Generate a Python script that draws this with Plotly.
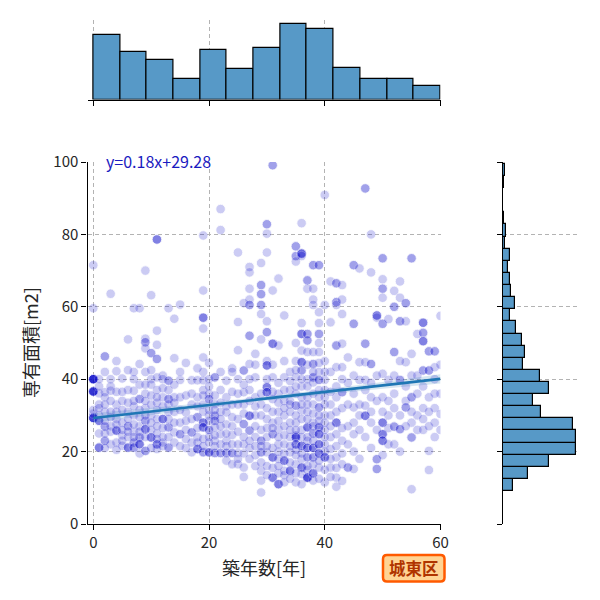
import plotly.graph_objects as go

FONT = "Noto Sans CJK JP"

# ---- scatter samples: (築年数, 専有面積, number of overlapping points)
samples = [
    (0, 71.5, 1), (0, 59.6, 1), (0, 40, 8), (0, 36.6, 7), (0, 29.3, 6), (0, 30.5, 1), (0, 31.5, 1),
    (1, 28.5, 3), (1, 21.1, 3), (1, 36.1, 1), (1, 38, 1), (1, 33, 1), (1, 30, 1),
    (2, 46.3, 2), (2, 36.4, 1), (2, 26.9, 2), (2, 23, 2), (2, 42, 1), (2, 35, 1), (2, 31, 1), (2, 25, 1),
    (3, 63.6, 1), (3, 40, 1), (3, 36.8, 1), (3, 31, 1), (3, 27, 1), (3, 25.5, 1), (3, 22, 1),
    (4, 42.2, 1), (4, 25.8, 3), (4, 29, 1), (4, 33, 1), (4, 22.5, 1), (4, 45, 1),
    (5, 40.2, 1), (5, 21.6, 1), (5, 28, 1), (5, 34, 1), (5, 24.5, 1),
    (6, 51, 1), (6, 21.1, 3), (6, 27, 2), (6, 37, 1), (6, 31, 1), (6, 24, 1),
    (7, 59.6, 1), (7, 42, 1), (7, 40, 1), (7, 36.8, 1), (7, 22.5, 2), (7, 21.1, 2), (7, 30, 1), (7, 25.5, 1),
    (8, 59.6, 1), (8, 44.2, 1), (8, 34.5, 2), (8, 27, 1), (8, 23.9, 2), (8, 22, 3), (8, 19.5, 1),
    (9, 70, 1), (9, 51.2, 1), (9, 50.2, 2), (9, 48.5, 1), (9, 42, 1), (9, 36, 1), (9, 32, 1),
    (9, 28.5, 2), (9, 26.2, 3), (9, 20.2, 2),
    (10, 63.2, 1), (10, 47.2, 2), (10, 40, 1), (10, 38.5, 1), (10, 33, 1), (10, 30, 1), (10, 26, 1), (10, 23.9, 3),
    (11, 78.6, 3), (11, 53.4, 1), (11, 49.5, 1), (11, 45.6, 2), (11, 40.5, 1), (11, 37, 1), (11, 33.5, 1),
    (11, 29, 1), (11, 25, 1), (11, 22, 3), (11, 20.7, 1),
    (12, 41, 1), (12, 40, 1), (12, 35, 1), (12, 29, 3), (12, 24, 1), (12, 21.5, 1),
    (13, 59.6, 1), (13, 39.6, 2), (13, 34.5, 2), (13, 31, 1), (13, 26.7, 2), (13, 21.1, 2),
    (14, 56.7, 1), (14, 45.8, 1), (14, 35, 1), (14, 31, 1), (14, 25.3, 1),
    (15, 60.6, 1), (15, 39.8, 1), (15, 35, 1), (15, 28, 1), (15, 24.8, 2),
    (16, 44.5, 1), (16, 30.8, 1), (16, 26, 1), (16, 21, 1),
    (17, 39.7, 1), (17, 33, 1), (17, 25.3, 2), (17, 19.8, 1),
    (18, 39.7, 1), (18, 35, 1), (18, 29.5, 2), (18, 24, 1), (18, 20.7, 3),
    (19, 79.7, 1), (19, 64.5, 1), (19, 57, 3), (19, 54, 1), (19, 42, 1), (19, 39.7, 1), (19, 37, 1),
    (19, 33, 1), (19, 28, 3), (19, 26.7, 3), (19, 19.8, 2),
    (20, 44.5, 1), (20, 40, 1), (20, 36, 1), (20, 34.5, 2), (20, 30, 1), (20, 26, 2), (20, 19.8, 3),
    (21, 40.5, 2), (21, 33.1, 1), (21, 29.9, 2), (21, 28.5, 2), (21, 26.7, 1), (21, 23, 1), (21, 19.6, 2),
    (22, 87, 1), (22, 81.2, 1), (22, 37, 1), (22, 31, 1), (22, 24.8, 1), (22, 19.6, 2),
    (23, 39.6, 1), (23, 35, 1), (23, 30.8, 1), (23, 27.5, 1), (23, 23, 1), (23, 19.6, 2),
    (24, 43, 1), (24, 42, 1), (24, 33, 1), (24, 24.6, 1), (24, 19.6, 2),
    (25, 75, 1), (25, 55.8, 1), (25, 48, 1), (25, 36, 1), (25, 29, 1), (25, 19.6, 1), (25, 16.5, 1),
    (26, 61, 1), (26, 42.4, 2), (26, 36.4, 1), (26, 33, 1), (26, 27.6, 2), (26, 22, 1), (26, 15.6, 1),
    (27, 71, 1), (27, 69.5, 1), (27, 65, 1), (27, 62, 1), (27, 60.5, 2), (27, 52, 2), (27, 44.2, 1),
    (27, 37, 1), (27, 29.9, 3), (27, 25.8, 2), (27, 21, 1),
    (28, 47, 1), (28, 40.5, 1), (28, 35, 1), (28, 24, 1), (28, 19, 1),
    (29, 72.1, 1), (29, 66, 2), (29, 63.5, 2), (29, 60.5, 2), (29, 58, 1), (29, 51, 1), (29, 33, 1),
    (29, 26, 1), (29, 23, 2), (29, 19.8, 2), (29, 14.7, 1), (29, 12, 1), (29, 8.7, 1),
    (30, 82.8, 2), (30, 80.2, 1), (30, 75, 1), (30, 56, 1), (30, 53, 2), (30, 45, 1), (30, 43.8, 3),
    (30, 37.8, 3), (30, 36.4, 3), (30, 29, 1), (30, 24, 1), (30, 19.8, 1),
    (31, 99.1, 2), (31, 64.5, 1), (31, 49.8, 3), (31, 40.5, 1), (31, 34.5, 1), (31, 28, 1), (31, 24.8, 2),
    (31, 21, 1), (31, 18.4, 3), (31, 12.8, 3),
    (32, 67.8, 1), (32, 49.3, 1), (32, 36, 1), (32, 31, 1), (32, 26.2, 1), (32, 22, 1), (32, 18, 1),
    (32, 14, 1), (32, 11, 3),
    (33, 57.6, 1), (33, 45, 1), (33, 40.5, 1), (33, 34, 1), (33, 30, 1), (33, 27, 1), (33, 22, 1),
    (33, 17.5, 3), (33, 14.7, 1), (33, 13.5, 1),
    (34, 42, 1), (34, 37, 1), (34, 34, 1), (34, 31, 1), (34, 28, 1), (34, 24, 1), (34, 19.8, 1), (34, 14.7, 3),
    (35, 76.7, 2), (35, 74, 2), (35, 72.5, 1), (35, 50, 1), (35, 45, 1), (35, 40.5, 1), (35, 36, 1),
    (35, 32.7, 2), (35, 28, 1), (35, 24.4, 2), (35, 23.9, 3), (35, 22, 3), (35, 19, 1), (35, 16.5, 1),
    (36, 83.1, 1), (36, 74.7, 4), (36, 74, 1), (36, 55.5, 1), (36, 52.5, 3), (36, 47.9, 1), (36, 44.7, 3),
    (36, 42.4, 2), (36, 38, 1), (36, 35, 1), (36, 31.3, 1), (36, 29, 1), (36, 26, 1), (36, 21.6, 3),
    (36, 18, 1), (36, 15.6, 3), (36, 13.8, 1),
    (37, 67.3, 2), (37, 65, 1), (37, 52.5, 2), (37, 50.7, 2), (37, 47.5, 1), (37, 40, 1), (37, 35, 1),
    (37, 31, 1), (37, 26.7, 3), (37, 21, 3), (37, 18.4, 2), (37, 16, 1), (37, 12.8, 5),
    (38, 71.5, 2), (38, 65, 1), (38, 62, 1), (38, 60.5, 1), (38, 47.5, 1), (38, 44.2, 2), (38, 40.5, 2),
    (38, 39.1, 1), (38, 36, 1), (38, 33, 1), (38, 28, 1), (38, 25, 2), (38, 21, 3), (38, 18.4, 2), (38, 14, 3),
    (39, 71.5, 2), (39, 58.5, 1), (39, 55.5, 1), (39, 52.5, 2), (39, 50, 1), (39, 47.5, 1), (39, 42, 1),
    (39, 39.8, 2), (39, 35, 1), (39, 32.2, 2), (39, 26.7, 3), (39, 24.8, 3), (39, 22, 3), (39, 19.5, 3),
    (39, 15.6, 1),
    (40, 90.9, 1), (40, 60.5, 1), (40, 45, 1), (40, 39.8, 1), (40, 35, 1), (40, 30, 1), (40, 26, 1),
    (40, 22, 1), (40, 18.4, 3), (40, 11.5, 1),
    (41, 67, 1), (41, 55.7, 1), (41, 42, 1), (41, 33, 1), (41, 24, 1), (41, 20.7, 1), (41, 15.6, 1),
    (42, 66.5, 2), (42, 61.3, 2), (42, 60.5, 1), (42, 49.3, 2), (42, 43.3, 1), (42, 35, 1), (42, 28, 3),
    (42, 24.8, 1), (42, 18.4, 1), (42, 12.8, 1), (42, 10.3, 1),
    (43, 66, 1), (43, 62, 1), (43, 58, 1), (43, 49.8, 1), (43, 43.3, 1), (43, 36.4, 2), (43, 23, 1),
    (43, 19.5, 1), (43, 11.9, 1),
    (44, 39, 1), (44, 27, 1), (44, 15.6, 2),
    (45, 71.5, 2), (45, 55.3, 2), (45, 41, 1), (45, 32.2, 1), (45, 24.8, 1), (45, 15.2, 1),
    (46, 70.6, 1), (46, 44.7, 1), (46, 39.8, 1), (46, 33, 1),
    (47, 92.7, 2), (47, 49.8, 2), (47, 44.7, 1), (47, 39.8, 1), (47, 32.7, 1), (47, 29.9, 3),
    (48, 80, 1), (48, 69.5, 1), (48, 44.2, 2), (48, 35, 1), (48, 28, 1),
    (49, 57.6, 3), (49, 57, 1), (49, 34, 1), (49, 17.9, 2), (49, 15.2, 2),
    (50, 73.4, 2), (50, 67.6, 1), (50, 65, 2), (50, 62.5, 1), (50, 55.3, 2), (50, 41.5, 1), (50, 35, 1),
    (50, 28, 3), (50, 24.8, 3), (50, 23, 3),
    (51, 56.6, 1), (51, 39.8, 1), (51, 30, 1), (51, 26.5, 1),
    (52, 64.4, 1), (52, 60, 2), (52, 47.5, 2), (52, 36, 1), (52, 32, 1), (52, 26.9, 2),
    (53, 67, 1), (53, 62.5, 1), (53, 56, 2), (53, 39.8, 2), (53, 26.2, 2), (53, 20, 1),
    (54, 61, 2), (54, 56, 1), (54, 44.7, 1), (54, 34, 1), (54, 32.2, 2),
    (55, 73.4, 2), (55, 41, 1), (55, 35, 2), (55, 28, 1), (55, 23.9, 2), (55, 9.6, 1),
    (56, 52.5, 1), (56, 30, 1), (56, 26, 1),
    (57, 55.6, 3), (57, 52.8, 2), (57, 50.5, 3), (57, 42.4, 2), (57, 38, 1), (57, 32, 1), (57, 26, 1),
    (58, 47.7, 2), (58, 42.4, 2), (58, 35, 1), (58, 27, 1), (58, 20.2, 1), (58, 14.9, 1),
    (59, 47.7, 2), (59, 43.3, 1), (59, 40, 1), (59, 32, 1), (59, 28, 1),
    (60, 57.5, 1), (60, 44, 1), (60, 36, 1), (60, 30.4, 1),
    # lighter single points filling the dense cloud
    (1, 25, 1), (1, 32, 1), (1, 40, 1), (2, 33, 1), (2, 28.5, 1), (2, 21, 1),
    (3, 34, 1), (3, 29.5, 1), (3, 38, 1), (4, 27.5, 1), (4, 36.5, 1), (4, 31, 1), (4, 20.5, 1),
    (5, 26, 1), (5, 31.5, 1), (5, 36.5, 1), (5, 23, 1), (6, 33.5, 1), (6, 29, 1), (6, 42.5, 1), (6, 25.5, 1),
    (7, 27.5, 1), (7, 32.5, 1), (7, 24, 1), (7, 34, 1), (8, 29.5, 1), (8, 38.5, 1), (8, 25.5, 1), (8, 31.5, 1),
    (9, 30, 1), (9, 34, 1), (9, 24, 1), (9, 38.5, 1), (10, 35.5, 1), (10, 28, 1), (10, 21, 1), (10, 42.5, 1),
    (11, 27, 1), (11, 31.5, 1), (11, 23.5, 1), (11, 35, 1), (12, 26.5, 1), (12, 32.5, 1), (12, 37.5, 1),
    (12, 22.5, 1), (13, 24, 1), (13, 29, 1), (13, 37, 1), (13, 33, 1), (14, 28, 1), (14, 22.5, 1),
    (14, 38.5, 1), (14, 33.5, 1), (15, 31.5, 1), (15, 21.5, 1), (15, 42, 1), (16, 23.5, 1), (16, 35.5, 1),
    (16, 28.5, 1), (17, 29, 1), (17, 22.5, 1), (17, 36, 1), (18, 26.5, 1), (18, 32.5, 1), (18, 22.5, 1),
    (18, 43, 1), (19, 31, 1), (19, 23.5, 1), (19, 35.5, 1), (19, 46, 1), (19, 21.5, 1),
    (20, 22.5, 1), (20, 28.5, 1), (20, 31.5, 1), (20, 24, 1), (20, 38, 1),
    (21, 24.5, 1), (21, 35.5, 1), (21, 21.5, 1), (21, 31.5, 1), (22, 27, 1), (22, 33.5, 1), (22, 22, 1),
    (22, 29, 1), (22, 42, 1), (23, 25, 1), (23, 32.5, 1), (23, 21.5, 1), (23, 17.5, 1),
    (24, 27, 1), (24, 29.5, 1), (24, 22, 1), (24, 36.5, 1), (24, 16.5, 1),
    (25, 25.5, 1), (25, 33, 1), (25, 22, 1), (25, 18, 1), (25, 40, 1),
    (26, 30.5, 1), (26, 24, 1), (26, 19.5, 1), (26, 38.5, 1), (26, 13, 1),
    (27, 34, 1), (27, 18, 1), (27, 23, 1), (27, 40, 1),
    (28, 27, 1), (28, 30, 1), (28, 21.5, 1), (28, 16, 1), (28, 32.5, 1), (28, 44, 1),
    (29, 30, 1), (29, 36, 1), (29, 17, 1), (29, 21.5, 1),
    (30, 32, 1), (30, 26.5, 1), (30, 21.5, 1), (30, 16, 1), (30, 13.5, 1), (30, 40, 1),
    (31, 31, 1), (31, 36.5, 1), (31, 15.5, 1), (31, 26.5, 1), (31, 44, 1),
    (32, 28.5, 1), (32, 24, 1), (32, 33.5, 1), (32, 20, 1), (32, 16, 1), (32, 39, 1),
    (33, 24.5, 1), (33, 19.5, 1), (33, 32, 1), (33, 11.5, 1), (33, 37, 1),
    (34, 21.5, 1), (34, 26, 1), (34, 17, 1), (34, 12.5, 1), (34, 33, 1), (34, 39.5, 1),
    (35, 26, 1), (35, 30, 1), (35, 20.5, 1), (35, 14, 1), (35, 38, 1), (35, 42.5, 1), (35, 11.5, 1),
    (36, 24, 1), (36, 33, 1), (36, 19.5, 1), (36, 11, 1), (36, 40, 1),
    (37, 24, 1), (37, 29, 1), (37, 33, 1), (37, 15, 1), (37, 38, 1), (37, 44, 1), (37, 23, 1),
    (38, 23, 1), (38, 30.5, 1), (38, 16.5, 1), (38, 12, 1), (38, 42, 1), (38, 27, 1),
    (39, 30, 1), (39, 37, 1), (39, 17.5, 1), (39, 12.5, 1), (39, 44.5, 1), (39, 28.5, 1),
    (40, 24, 1), (40, 20, 1), (40, 15, 1), (40, 33, 1), (40, 28, 1), (40, 42, 1), (40, 37, 1),
    (41, 27, 1), (41, 18, 1), (41, 30, 1), (41, 36.5, 1), (41, 13, 1),
    (42, 31, 1), (42, 21.5, 1), (42, 38, 1), (42, 15.5, 1), (43, 26.5, 1), (43, 32, 1), (43, 16.5, 1),
    (43, 40, 1), (44, 22, 1), (44, 33, 1), (44, 46, 1), (45, 28, 1), (45, 36, 1), (45, 20, 1),
    (46, 26, 1), (46, 18, 1), (46, 30, 1), (47, 37, 1), (47, 24, 1), (48, 21, 1), (48, 31, 1), (48, 39, 1),
    (49, 26, 1), (49, 41, 1), (50, 31, 1), (50, 19, 1), (51, 22, 1), (51, 34, 1), (52, 41, 1), (52, 22, 1),
    (53, 30, 1), (53, 45, 1), (54, 27, 1), (54, 38, 1), (55, 31, 1), (55, 47, 1), (56, 36, 1), (56, 41, 1),
    (57, 29, 1), (58, 31, 1), (59, 36, 1), (59, 24, 1), (60, 26, 1),
]
age = []
area = []
for a, y, n in samples:
    age += [a] * n
    area += [y] * n

# ---- marginal histograms (counts)
x_bin_start = 0.0
x_bin_size = 60 / 13
x_hist_counts = [63, 46, 38, 20, 48, 30, 50, 73, 68, 31, 20, 20, 13]

y_bin_start = 9.1
y_bin_size = 3.348
y_hist_counts = [10, 25, 46, 73, 73, 70, 38, 30, 46, 37, 20, 22, 19, 13, 7,
                 12, 8, 7, 5, 7, 2, 3, 1, 0, 0, 1, 2]

# ---- regression
slope = 0.18
intercept = 29.28
fit_x = [0, 60]
ci_x = [0, 10, 20, 30, 40, 50, 60]
ci_half = [1.3, 0.95, 0.7, 0.55, 0.7, 0.95, 1.3]

x_ticks = [0, 20, 40, 60]
y_ticks = [0, 20, 40, 60, 80, 100]

W = H = 600.0
def px_x(p): return p / W
def px_y(p): return 1 - p / H

GRID = dict(showgrid=True, gridcolor="#b3b3b3", gridwidth=1, griddash="4px,3px")
AXLINE = dict(showline=True, linecolor="black", linewidth=1.3, ticks="outside",
              ticklen=5, tickwidth=1.3, tickcolor="black", zeroline=False,
              automargin=False)

fig = go.Figure()

# scatter
fig.add_trace(go.Scatter(
    x=age, y=area, mode="markers", xaxis="x", yaxis="y",
    marker=dict(size=9.5, color="rgb(0,0,200)", opacity=0.2,
                line=dict(width=0.8, color="white")),
    hoverinfo="skip"))

# confidence band
fit_lo = [intercept + slope * x - h for x, h in zip(ci_x, ci_half)]
fit_hi = [intercept + slope * x + h for x, h in zip(ci_x, ci_half)]
fig.add_trace(go.Scatter(
    x=ci_x + ci_x[::-1], y=fit_hi + fit_lo[::-1], mode="lines", fill="toself",
    fillcolor="rgba(31,119,180,0.18)", line=dict(width=0), xaxis="x", yaxis="y",
    hoverinfo="skip"))
# regression line
fig.add_trace(go.Scatter(
    x=fit_x, y=[intercept + slope * x for x in fit_x], mode="lines",
    line=dict(color="#1f77b4", width=2.6), xaxis="x", yaxis="y", hoverinfo="skip"))

# top histogram
x_left = [x_bin_start + i * x_bin_size for i in range(len(x_hist_counts))]
fig.add_trace(go.Bar(
    x=x_left, y=x_hist_counts, width=x_bin_size, offset=0, xaxis="x2", yaxis="y2",
    marker=dict(color="#5799c7", line=dict(color="black", width=1.2)), hoverinfo="skip"))

# right histogram
y_left = [y_bin_start + i * y_bin_size for i in range(len(y_hist_counts))]
fig.add_trace(go.Bar(
    y=y_left, x=y_hist_counts, width=y_bin_size, offset=0, orientation="h",
    xaxis="x3", yaxis="y3",
    marker=dict(color="#5799c7", line=dict(color="black", width=1.2)), hoverinfo="skip"))

main_x_dom = [px_x(87.5), px_x(440.5)]
main_y_dom = [px_y(524), px_y(162)]

fig.update_layout(
    width=600, height=600, autosize=False,
    margin=dict(l=0, r=0, t=0, b=0, pad=0, autoexpand=False),
    plot_bgcolor="white", paper_bgcolor="white", showlegend=False,
    font=dict(family=FONT, size=15, color="#262626"),
    bargap=0,
    xaxis=dict(domain=main_x_dom, range=[-1, 60], tickvals=x_ticks, anchor="y",
               tickfont=dict(size=15, color="#262626"), **AXLINE, **GRID),
    yaxis=dict(domain=main_y_dom, range=[0, 100], tickvals=y_ticks, anchor="x",
               tickfont=dict(size=15, color="#262626"), **AXLINE, **GRID),
    xaxis2=dict(domain=main_x_dom, range=[-1, 60], tickvals=x_ticks, anchor="y2",
                showticklabels=False, **AXLINE, **GRID),
    yaxis2=dict(domain=[px_y(99.5), px_y(20)], range=[0, 77.2], anchor="x2",
                visible=False, automargin=False),
    xaxis3=dict(domain=[px_x(503), px_x(578)], range=[0, 75], anchor="y3",
                visible=False, automargin=False),
    yaxis3=dict(domain=main_y_dom, range=[0, 100], tickvals=y_ticks, anchor="x3",
                showticklabels=False, **AXLINE, **GRID),
)

# label box 城東区 (rounded rectangle)
bx0, bx1, by0, by1, r = 383.0, 444.5, 555.0, 581.5, 4.0
path = (f"M {px_x(bx0 + r)},{px_y(by0)} L {px_x(bx1 - r)},{px_y(by0)} "
        f"Q {px_x(bx1)},{px_y(by0)} {px_x(bx1)},{px_y(by0 + r)} "
        f"L {px_x(bx1)},{px_y(by1 - r)} Q {px_x(bx1)},{px_y(by1)} {px_x(bx1 - r)},{px_y(by1)} "
        f"L {px_x(bx0 + r)},{px_y(by1)} Q {px_x(bx0)},{px_y(by1)} {px_x(bx0)},{px_y(by1 - r)} "
        f"L {px_x(bx0)},{px_y(by0 + r)} Q {px_x(bx0)},{px_y(by0)} {px_x(bx0 + r)},{px_y(by0)} Z")
fig.add_shape(type="path", path=path, xref="paper", yref="paper",
              fillcolor="#ffd494", line=dict(color="#ff5a00", width=2.5))

fig.add_annotation(text="<b>城東区</b>", x=px_x((bx0 + bx1) / 2), y=px_y((by0 + by1) / 2),
                   xref="paper", yref="paper", xanchor="center", yanchor="middle",
                   showarrow=False, font=dict(family=FONT, size=16.5, color="#b03400"))

# axis titles
fig.add_annotation(text="築年数[年]", x=px_x(264), y=px_y(567), xref="paper", yref="paper",
                   xanchor="center", yanchor="middle", showarrow=False,
                   font=dict(family=FONT, size=18, color="#262626"))
fig.add_annotation(text="専有面積[m2]", x=px_x(30), y=px_y(343), xref="paper", yref="paper",
                   xanchor="center", yanchor="middle", textangle=-90, showarrow=False,
                   font=dict(family=FONT, size=18, color="#262626"))

# regression equation
fig.add_annotation(text=f"y={slope}x+{intercept}", x=1.8, y=100, xref="x", yref="y",
                   xanchor="left", yanchor="middle", yshift=1, showarrow=False,
                   font=dict(family=FONT, size=16, color="#1a1ac0"))

fig.write_html("out.html")
